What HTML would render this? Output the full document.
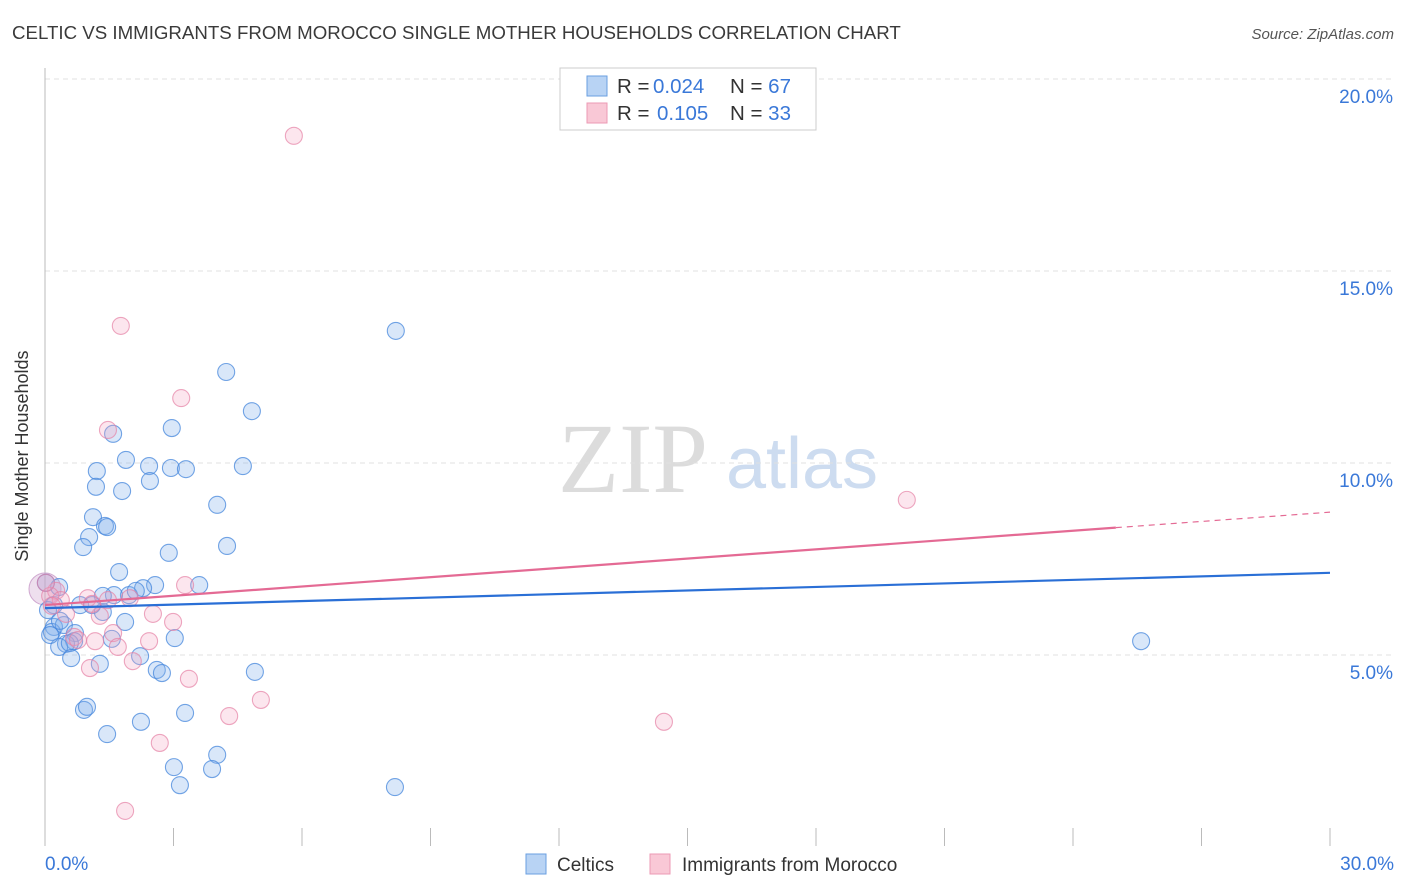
<!DOCTYPE html>
<html><head><meta charset="utf-8"><style>
body{margin:0;background:#fff;font-family:"Liberation Sans",sans-serif;}
#wrap{position:relative;width:1406px;height:892px;overflow:hidden;}
</style></head><body>
<div id="wrap">
<svg id="chart" width="1406" height="892" xmlns="http://www.w3.org/2000/svg">
<text x="12" y="39" font-size="18.7" fill="#3a3a3a">CELTIC VS IMMIGRANTS FROM MOROCCO SINGLE MOTHER HOUSEHOLDS CORRELATION CHART</text>
<text x="1394" y="39" font-size="15" fill="#555" font-style="italic" text-anchor="end">Source: ZipAtlas.com</text>
<text x="28" y="456" font-size="18" fill="#333" text-anchor="middle" transform="rotate(-90 28 456)">Single Mother Households</text>
<g>
<text x="633" y="492" font-size="100" fill="#dcdcdc" font-family="Liberation Serif,serif" text-anchor="middle">ZIP</text>
<text x="802" y="488" font-size="72" fill="#cddcf0" text-anchor="middle">atlas</text>
</g>
<g id="grid"></g><g id="ticks"></g><g id="pts"></g><g id="lines"></g>
<g>
<rect x="560" y="68" width="256" height="62" fill="#fff" stroke="#ccc"/>
<rect x="587" y="76" width="20" height="20" fill="#b8d3f4" stroke="#6a9fe0"/>
<rect x="587" y="103" width="20" height="20" fill="#f9c8d6" stroke="#ec9ab4"/>
<text x="617" y="93" font-size="20.5" fill="#333">R = <tspan fill="#3a78d8" x="653">0.024</tspan><tspan x="730">N = </tspan><tspan fill="#3a78d8">67</tspan></text>
<text x="617" y="120" font-size="20.5" fill="#333">R = <tspan fill="#3a78d8" x="657">0.105</tspan><tspan x="730">N = </tspan><tspan fill="#3a78d8">33</tspan></text>
</g>
<g>
<rect x="526" y="854" width="20" height="20" fill="#b8d3f4" stroke="#6a9fe0"/>
<text x="557" y="871" font-size="19" fill="#333">Celtics</text>
<rect x="650" y="854" width="20" height="20" fill="#f9c8d6" stroke="#ec9ab4"/>
<text x="682" y="871" font-size="19" fill="#333">Immigrants from Morocco</text>
</g>
</svg>
</div>
<script>
const blueX=[8.19,4.23,4.83,2.96,1.59,1.89,1.21,2.43,2.94,3.29,4.62,1.19,2.45,1.80,4.02,1.12,1.40,1.45,1.03,0.89,2.89,4.25,1.73,2.57,2.29,3.60,1.96,2.12,1.61,0.33,0.21,0.82,1.35,1.87,0.21,0.16,0.44,0.70,3.03,1.56,0.68,0.49,0.33,0.58,2.22,0.61,1.28,2.61,2.73,4.90,0.91,0.98,2.24,3.27,1.45,4.02,3.01,3.90,3.15,8.17,25.59,0.02,0.07,0.12,0.35,1.35,1.10];
const blueY=[13.44,12.37,11.35,10.91,10.76,10.08,9.79,9.92,9.87,9.84,9.92,9.38,9.53,9.27,8.91,8.59,8.36,8.33,8.07,7.81,7.66,7.84,7.16,6.82,6.74,6.82,6.56,6.67,6.56,6.77,6.30,6.30,6.12,5.86,5.73,5.60,5.78,5.57,5.44,5.42,5.36,5.29,5.21,5.31,4.97,4.92,4.77,4.61,4.53,4.56,3.57,3.65,3.26,3.49,2.94,2.40,2.08,2.03,1.61,1.56,5.36,6.88,6.17,5.52,5.89,6.54,6.30];
const pinkX=[5.81,1.77,3.18,1.47,20.12,3.27,1.00,1.98,2.52,1.28,2.99,0.26,0.12,0.37,1.59,2.43,1.17,0.68,1.70,2.05,1.05,3.36,4.30,5.04,14.45,2.68,1.87,0.02,0.77,1.10,0.16,0.49,1.47];
const pinkY=[18.52,13.57,11.69,10.86,9.04,6.82,6.48,6.48,6.07,6.02,5.86,6.67,6.54,6.43,5.57,5.36,5.36,5.47,5.21,4.84,4.66,4.38,3.41,3.83,3.26,2.71,0.94,6.88,5.39,6.33,6.28,6.07,6.43];
const yTicks=[5,10,15,20];
const yTickLabels=["5.0%","10.0%","15.0%","20.0%"];
const xTicks=[0,3,6,9,12,15,18,21,24,27,30];
const blueTrend=[6.22,7.14];
const pinkTrend=[6.30,8.72];
const pinkSolidEnd=25;

const NS="http://www.w3.org/2000/svg";
const X=v=>45+v*1285/30, Y=v=>847-v*192/5;
function mk(t,a,p){const e=document.createElementNS(NS,t);for(const k in a)e.setAttribute(k,a[k]);p.appendChild(e);return e;}
const grid=document.getElementById('grid'),ticks=document.getElementById('ticks'),pts=document.getElementById('pts'),lines=document.getElementById('lines');
yTicks.forEach((v,i)=>{
  const g=mk('line',{x1:45,x2:1394,y1:Y(v),y2:Y(v),stroke:'#e0e0e0','stroke-dasharray':'5,4'},grid);
  
  
  const t=mk('text',{x:1393,y:Y(v)+24,'font-size':19,fill:'#3a78d8','text-anchor':'end'},ticks);
  t.textContent=yTickLabels[i];
  
  
});
const ax=mk('line',{x1:45,x2:45,y1:68,y2:846,stroke:'#bbb'},ticks);


xTicks.forEach(v=>{
  const l=mk('line',{x1:X(v),x2:X(v),y1:828,y2:846,stroke:'#bbb'},ticks);
  
  
});
const xl0=mk('text',{x:45,y:870,'font-size':19,fill:'#3a78d8'},ticks);xl0.textContent="0.0%";


const xl1=mk('text',{x:1394,y:870,'font-size':19,fill:'#3a78d8','text-anchor':'end'},ticks);xl1.textContent="30.0%";


const big=mk('circle',{cx:X(0),cy:Y(6.72),r:16,fill:'rgba(200,150,200,0.3)',stroke:'#d0a8d0'},pts);


blueX.forEach((v,i)=>{
  const c=mk('circle',{cx:X(v),cy:Y(blueY[i]),r:8.5,fill:'rgba(130,175,235,0.3)',stroke:'rgba(70,135,220,0.75)','stroke-width':1.1},pts);
  
  
});
pinkX.forEach((v,i)=>{
  const c=mk('circle',{cx:X(v),cy:Y(pinkY[i]),r:8.5,fill:'rgba(245,165,195,0.28)',stroke:'rgba(230,130,165,0.7)','stroke-width':1.1},pts);
  
  
});
const bl=mk('line',{x1:X(0),y1:Y(blueTrend[0]),x2:X(30),y2:Y(blueTrend[1]),stroke:'#2a6fd6','stroke-width':2.2},lines);


const py=x=>pinkTrend[0]+(pinkTrend[1]-pinkTrend[0])*x/30;
const pl=mk('line',{x1:X(0),y1:Y(py(0)),x2:X(pinkSolidEnd),y2:Y(py(pinkSolidEnd)),stroke:'#e46a94','stroke-width':2.2},lines);


const pd=mk('line',{x1:X(pinkSolidEnd),y1:Y(py(pinkSolidEnd)),x2:X(30),y2:Y(py(30)),stroke:'#e46a94','stroke-width':1.2,'stroke-dasharray':'6,5'},lines);


</script>
</body></html>
